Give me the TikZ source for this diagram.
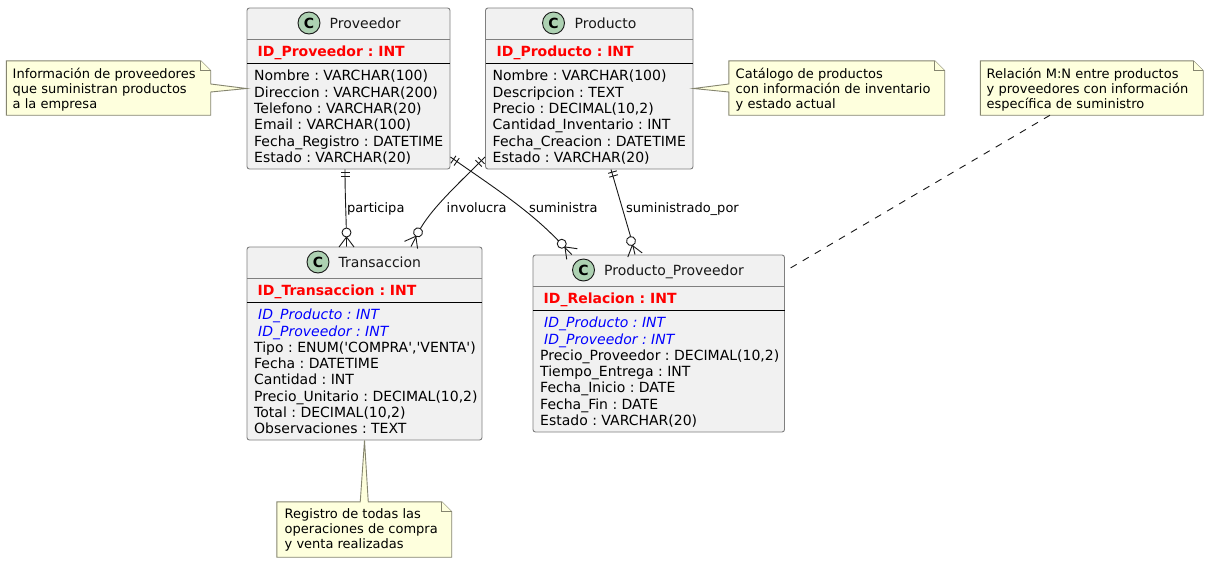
\documentclass[tikz,border=0pt]{standalone}
\usepackage{fontspec}
\setmainfont{DejaVu Sans}
\newfontfamily\plainfont{DejaVu Sans}
\definecolor{boxfill}{HTML}{F1F1F1}
\definecolor{boxline}{HTML}{7F7F7F}
\definecolor{notefill}{HTML}{FEFFDD}
\definecolor{noteline}{HTML}{85856F}
\definecolor{badge}{HTML}{ADD1B2}
\definecolor{ink}{HTML}{181818}
\tikzset{
  x=1pt,y=-1pt,
  classbox/.style={draw=boxline,fill=boxfill,line width=0.9pt,rounded corners=2.5pt,inner sep=0,minimum width=#1},
  notebox/.style={inner sep=0,minimum width=#1},
  noteshape/.style={draw=noteline,fill=notefill,line width=0.9pt,line join=miter},
  rule/.style={draw=black,line width=0.9pt},
  divider/.style={draw=boxline,line width=0.9pt},
  title/.style={inner sep=0,anchor=base west,font=\fontsize{14}{16}\selectfont,text=ink},
  pk/.style={inner sep=0,anchor=base west,font=\fontsize{14}{16}\selectfont\bfseries,text=red},
  fk/.style={inner sep=0,anchor=north west,align=left,font=\fontsize{14}{16.3}\selectfont\itshape,text=blue},
  member/.style={inner sep=0,anchor=north west,align=left,font=\fontsize{14}{16.3}\selectfont,text=black},
  notetext/.style={inner sep=0,anchor=north west,align=left,font=\fontsize{13}{15.2}\selectfont,text=black},
  linklabel/.style={inner sep=0,anchor=base west,font=\fontsize{13}{15}\selectfont,text=black},
  badgecircle/.style={circle,draw=ink,fill=badge,line width=0.9pt,minimum size=22pt,inner sep=0,font=\fontsize{14}{14}\selectfont\bfseries,text=black},
  link/.style={draw=ink,line width=0.9pt},
  twobar/.pic={\draw[link] (-2,-4.5)--(-2,4.5) (2,-4.5)--(2,4.5);},
  crowend/.pic={\draw[link] (0,-7.5)--(-10,0)--(0,7.5);\draw[link,fill=white] (-14.5,0) circle (4.5);},
}
\begin{document}
\frenchspacing
\begin{tikzpicture}
\useasboundingbox (0,0) rectangle (1209,563);
\fill[white] (0,0) rectangle (1209,563);
% classes
\node[classbox=203pt,minimum height=161pt] (prov) at (348.5,88.5) {};
\node[classbox=207.5pt,minimum height=161pt] (prod) at (589.25,88.5) {};
\node[classbox=235pt,minimum height=193pt] (trans) at (364.5,343.5) {};
\node[classbox=251.5pt,minimum height=177pt] (pp) at (658.75,343.5) {};
% dividers
\draw[divider] (247,39.5)--(450,39.5) (485.5,39.5)--(693,39.5) (247,278.5)--(482,278.5) (533,286.5)--(784.5,286.5);
\draw[rule] (247,63)--(450,63) (485.5,63)--(693,63) (247,302)--(482,302) (533,310)--(784.5,310);
% badges
\node[badgecircle] (b1) at (309,23) {C};
\node[badgecircle] (b2) at (553.5,23) {C};
\node[badgecircle] (b3) at (318,262) {C};
\node[badgecircle] (b4) at (583.5,270) {C};
% titles
\node[title] (t1) at (329.5,28) {Proveedor};
\node[title] (t2) at (574.5,28) {Producto};
\node[title] (t3) at (338.5,267) {Transaccion};
\node[title] (t4) at (604,275) {Producto\_Proveedor};
% keys
\node[pk] (k1) at (257.5,56) {ID\_Proveedor : INT};
\node[pk] (k2) at (496.5,56) {ID\_Producto : INT};
\node[pk] (k3) at (257.5,295) {ID\_Transaccion : INT};
\node[pk] (k4) at (543.5,303) {ID\_Relacion : INT};
% members
\node[member] (m1) at (254,70) {Nombre : VARCHAR(100)\\Direccion : VARCHAR(200)\\Telefono : VARCHAR(20)\\Email : VARCHAR(100)\\Fecha\_Registro : DATETIME\\Estado : VARCHAR(20)};
\node[member] (m2) at (492.5,70) {Nombre : VARCHAR(100)\\Descripcion : TEXT\\Precio : DECIMAL(10,2)\\Cantidad\_Inventario : INT\\Fecha\_Creacion : DATETIME\\Estado : VARCHAR(20)};
\node[fk] (f3) at (258,309) {ID\_Producto : INT\\ID\_Proveedor : INT};
\node[member] (m3) at (254,341.5) {Tipo : ENUM({\plainfont'}COMPRA{\plainfont'},{\plainfont'}VENTA{\plainfont'})\\Fecha : DATETIME\\Cantidad : INT\\Precio\_Unitario : DECIMAL(10,2)\\Total : DECIMAL(10,2)\\Observaciones : TEXT};
\node[fk] (f4) at (544,317) {ID\_Producto : INT\\ID\_Proveedor : INT};
\node[member] (m4) at (540,349.5) {Precio\_Proveedor : DECIMAL(10,2)\\Tiempo\_Entrega : INT\\Fecha\_Inicio : DATE\\Fecha\_Fin : DATE\\Estado : VARCHAR(20)};
% notes
\node[notebox=204pt,minimum height=54pt] (n1) at (108.5,88) {};
\node[notebox=215.5pt,minimum height=54pt] (n2) at (836.75,88) {};
\node[notebox=222.5pt,minimum height=54pt] (n3) at (1091.75,88) {};
\node[notebox=174.5pt,minimum height=55pt] (n4) at (364.25,529.5) {};
\draw[noteshape] (n1.north west)--([xshift=-10pt]n1.north east)--([yshift=-10pt]n1.north east)--([yshift=4pt]n1.east)--(prov.west)--([yshift=-4pt]n1.east)--(n1.south east)--(n1.south west)--cycle;
\draw[noteshape] ([xshift=-10pt]n1.north east)--([xshift=-10pt,yshift=-10pt]n1.north east)--([yshift=-10pt]n1.north east);
\draw[noteshape] (n2.north west)--([xshift=-10pt]n2.north east)--([yshift=-10pt]n2.north east)--(n2.south east)--(n2.south west)--([yshift=-4pt]n2.west)--(prod.east)--([yshift=4pt]n2.west)--cycle;
\draw[noteshape] ([xshift=-10pt]n2.north east)--([xshift=-10pt,yshift=-10pt]n2.north east)--([yshift=-10pt]n2.north east);
\draw[noteshape] (n3.north west)--([xshift=-10pt]n3.north east)--([yshift=-10pt]n3.north east)--(n3.south east)--(n3.south west)--cycle;
\draw[noteshape] ([xshift=-10pt]n3.north east)--([xshift=-10pt,yshift=-10pt]n3.north east)--([yshift=-10pt]n3.north east);
\draw[noteshape] (n4.north west)--([xshift=-4pt]n4.north)--(trans.south)--([xshift=4pt]n4.north)--([xshift=-10pt]n4.north east)--([yshift=-10pt]n4.north east)--(n4.south east)--(n4.south west)--cycle;
\draw[noteshape] ([xshift=-10pt]n4.north east)--([xshift=-10pt,yshift=-10pt]n4.north east)--([yshift=-10pt]n4.north east);
\node[notetext] (nt1) at (12.5,67.5) {Información de proveedores\\que suministran productos\\a la empresa};
\node[notetext] (nt2) at (735.5,67.5) {Catálogo de productos\\con información de inventario\\y estado actual};
\node[notetext] (nt3) at (986.5,67.5) {Relación M:N entre productos\\y proveedores con información\\específica de suministro};
\node[notetext] (nt4) at (284.5,508.5) {Registro de todas las\\operaciones de compra\\y venta realizadas};
% connectors
\draw[link] ([xshift=-3.5pt]prov.south) .. controls (345,200) and (346.5,220) .. ([xshift=-18pt]trans.north);
\draw[link] ([yshift=-68.5pt]prod.west) .. controls (455,187) and (430,210) .. (418.5,232) -- ([xshift=46.5pt]trans.north);
\draw[link] ([yshift=-68.5pt]prov.east) .. controls (490,185) and (530,210) .. (561.7,244.3) -- ([xshift=-87pt]pp.north);
\draw[link] ([xshift=21.75pt]prod.south) -- (631,238) -- ([xshift=-23.75pt]pp.north);
\draw[dashed,dash pattern=on 7pt off 7pt,link] ([xshift=-41.75pt]n3.south) -- ([xshift=5.5pt,yshift=75.5pt]pp.east);
% ends
\pic[rotate=-90] at (345,174) {twobar};
\pic[rotate=-135] at (480,162) {twobar};
\pic[rotate=-35] at (455,160.7) {twobar};
\pic[rotate=-74] at (613,174) {twobar};
\pic[rotate=-90] at (346.5,247) {crowend};
\pic[rotate=-119] at (411,245) {crowend};
\pic[rotate=-45] at (572,254) {crowend};
\pic[rotate=-74] at (635,255) {crowend};
% labels
\node[linklabel] (l1) at (347,212) {participa};
\node[linklabel] (l2) at (446.5,212) {involucra};
\node[linklabel] (l3) at (529,212) {suministra};
\node[linklabel] (l4) at (626,212) {suministrado\_por};
\end{tikzpicture}
\end{document}
